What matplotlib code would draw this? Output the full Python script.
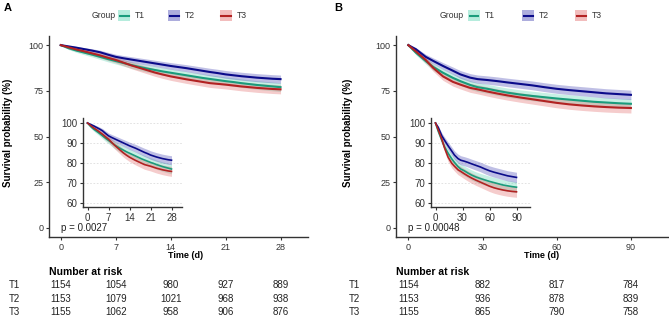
import numpy as np
import matplotlib
matplotlib.use("Agg")
import matplotlib.pyplot as plt
from matplotlib.patches import Rectangle
from matplotlib.lines import Line2D
from matplotlib.transforms import blended_transform_factory

plt.rcParams['font.family'] = ['Liberation Sans', 'DejaVu Sans']

groups = ['T1', 'T2', 'T3']
group_n = [1154, 1153, 1155]
line_colors = ['#1A9C7C', '#0B0B8A', '#B22222']
fill_colors = ['#5FD6B4', '#4A4AB5', '#E36D6D']

# panel A: 28-day survival (%)
days_a = list(range(0, 29))
surv_a_t1 = [100, 98.3, 97.0, 95.9, 94.8, 93.6, 92.4, 91.3, 90.2, 89.1, 88.1, 87.2, 86.4, 85.6, 84.9,
             84.2, 83.5, 82.8, 82.1, 81.5, 80.9, 80.3, 79.8, 79.2, 78.7, 78.2, 77.8, 77.4, 77.0]
surv_a_t2 = [100, 99.3, 98.6, 97.8, 97.0, 96.1, 94.8, 93.6, 92.8, 92.1, 91.4, 90.7, 90.0, 89.3, 88.6,
             88.0, 87.4, 86.7, 86.0, 85.3, 84.7, 84.0, 83.5, 83.0, 82.6, 82.2, 81.9, 81.6, 81.4]
surv_a_t3 = [100, 98.8, 97.6, 96.6, 95.5, 94.4, 93.1, 91.9, 90.4, 88.9, 87.6, 86.3, 85.0, 83.9, 82.9,
             82.1, 81.3, 80.6, 79.9, 79.2, 78.8, 78.4, 77.9, 77.4, 77.0, 76.6, 76.3, 76.0, 75.8]

# panel B: 90-day survival (%)
days_b = [0, 3, 7, 10, 14, 18, 21, 25, 28, 32, 36, 40, 45, 50, 55, 60, 65, 70, 75, 80, 85, 90]
surv_b_t1 = [100, 95.9, 91.3, 88.1, 84.9, 82.1, 80.3, 78.2, 77.0, 76.1, 75.0, 74.0, 73.0, 72.2, 71.5,
             70.8, 70.2, 69.6, 69.0, 68.6, 68.2, 67.9]
surv_b_t2 = [100, 97.8, 93.6, 91.4, 88.6, 86.0, 84.0, 82.2, 81.4, 80.9, 80.3, 79.6, 78.8, 78.0, 77.0,
             76.1, 75.4, 74.8, 74.2, 73.6, 73.2, 72.8]
surv_b_t3 = [100, 96.6, 91.9, 87.6, 82.9, 79.9, 78.4, 76.6, 75.8, 74.6, 73.5, 72.5, 71.4, 70.4, 69.4,
             68.4, 67.6, 67.0, 66.5, 66.1, 65.8, 65.6]

risk_times_a = [0, 7, 14, 21, 28]
risk_a = [[1154, 1054, 980, 927, 889],
          [1153, 1079, 1021, 968, 938],
          [1155, 1062, 958, 906, 876]]
risk_times_b = [0, 30, 60, 90]
risk_b = [[1154, 882, 817, 784],
          [1153, 936, 878, 839],
          [1155, 865, 790, 758]]

pval_a = "p = 0.0027"
pval_b = "p = 0.00048"

W, H = 669, 323
fig = plt.figure(figsize=(W / 100, H / 100), dpi=100)


def fx(px):
    return px / W


def fy(py):
    return 1 - py / H


def style_axis(ax, size=6.5):
    for s in ['top', 'right']:
        ax.spines[s].set_visible(False)
    for s in ['left', 'bottom']:
        ax.spines[s].set_color('#333333')
        ax.spines[s].set_linewidth(1.0)
    ax.tick_params(length=2.5, width=0.8, color='#333333', labelcolor='#333333',
                   labelsize=size, pad=1.5)


def draw_curves(ax, t, series, lw):
    t = np.asarray(t, dtype=float)
    for s, n, fc in zip(series, group_n, fill_colors):
        s = np.asarray(s, dtype=float)
        p = s / 100
        # rough Greenwood-style 95% band from the number at start
        se = np.sqrt(np.clip(p * (1 - p), 0, None) / n) * 100
        ax.fill_between(t, s - 1.96 * se, s + 1.96 * se, color=fc, alpha=0.35, lw=0)
    for s, lc in zip(series, line_colors):
        ax.plot(t, s, color=lc, lw=lw, solid_joinstyle='miter')


def panel(left_px, right_px, inset_left_px, t, series, xmax, xticks, pval,
          risk_times, risk, label, label_x, ylab_x, xlab_x, row_lab_x, legend_x):
    ax = fig.add_axes([fx(left_px), fy(237), fx(right_px - left_px), (237 - 36) / H])
    draw_curves(ax, t, series, 1.5)
    pad = xmax * 0.05
    ax.set_xlim(-pad, xmax + pad)
    ax.set_ylim(-5, 105)
    ax.set_xticks(xticks)
    ax.set_yticks([0, 25, 50, 75, 100])
    style_axis(ax)
    ax.text(0, 0, pval, ha='left', va='center', fontsize=7, color='#222222')

    ins = fig.add_axes([fx(inset_left_px), fy(207), fx(99), (207 - 118) / H])
    ins.set_yticks([60, 70, 80, 90, 100])
    ins.set_xticks(xticks)
    ins.grid(axis='y', color='#DDDDDD', lw=0.6, ls=(0, (2, 2)))
    ins.set_axisbelow(True)
    draw_curves(ins, t, series, 1.2)
    ins.set_xlim(-pad, xmax + pad)
    ins.set_ylim(58, 102.5)
    style_axis(ins, size=7)
    ins.set_facecolor('none')

    fig.text(fx(label_x), fy(8), label, fontsize=8, fontweight='bold', ha='left', va='center')
    fig.text(fx(ylab_x), fy(133), "Survival probability (%)", rotation=90, fontsize=7,
             fontweight='bold', ha='center', va='center')
    fig.text(fx(xlab_x), fy(256), "Time (d)", fontsize=6.5, fontweight='bold',
             ha='center', va='center')

    # number at risk table
    fig.text(fx(left_px), fy(272), "Number at risk", fontsize=7.5, fontweight='bold',
             ha='left', va='center')
    tr = blended_transform_factory(ax.transData, fig.transFigure)
    for i, (g, row) in enumerate(zip(groups, risk)):
        yy = fy(285 + 13.5 * i)
        fig.text(fx(row_lab_x), yy, g, fontsize=7, ha='left', va='center', color='#222222')
        for tt, v in zip(risk_times, row):
            ax.text(tt, yy, str(v), transform=tr, fontsize=7, ha='center', va='center',
                    color='#222222', clip_on=False)

    # legend
    gx, k1, k2, k3 = legend_x
    fig.text(fx(gx), fy(15), "Group", fontsize=6.2, ha='left', va='center', color='#333333')
    for kx, g, lc, fc in zip([k1, k2, k3], groups, line_colors, fill_colors):
        fig.patches.append(Rectangle((fx(kx), fy(21)), fx(12), 11 / H, transform=fig.transFigure,
                                     facecolor=fc, alpha=0.45, lw=0))
        fig.lines.append(Line2D([fx(kx + 1.5), fx(kx + 10.5)], [fy(15.5), fy(15.5)],
                                transform=fig.transFigure, color=lc, lw=1.5))
        fig.text(fx(kx + 17), fy(15), g, fontsize=6.2, ha='left', va='center', color='#333333')
    return ax


panel(49, 308, 83, days_a, [surv_a_t1, surv_a_t2, surv_a_t3], 30, [0, 7, 14, 21, 28],
      pval_a, risk_times_a, risk_a, "A", 4, 8, 186, 9, (92, 118, 168, 220))
panel(396, 668, 431, days_b, [surv_b_t1, surv_b_t2, surv_b_t3], 100, [0, 30, 60, 90],
      pval_b, risk_times_b, risk_b, "B", 334, 348, 542, 349, (440, 468, 522, 575))

fig.savefig("out.png", dpi=100)
